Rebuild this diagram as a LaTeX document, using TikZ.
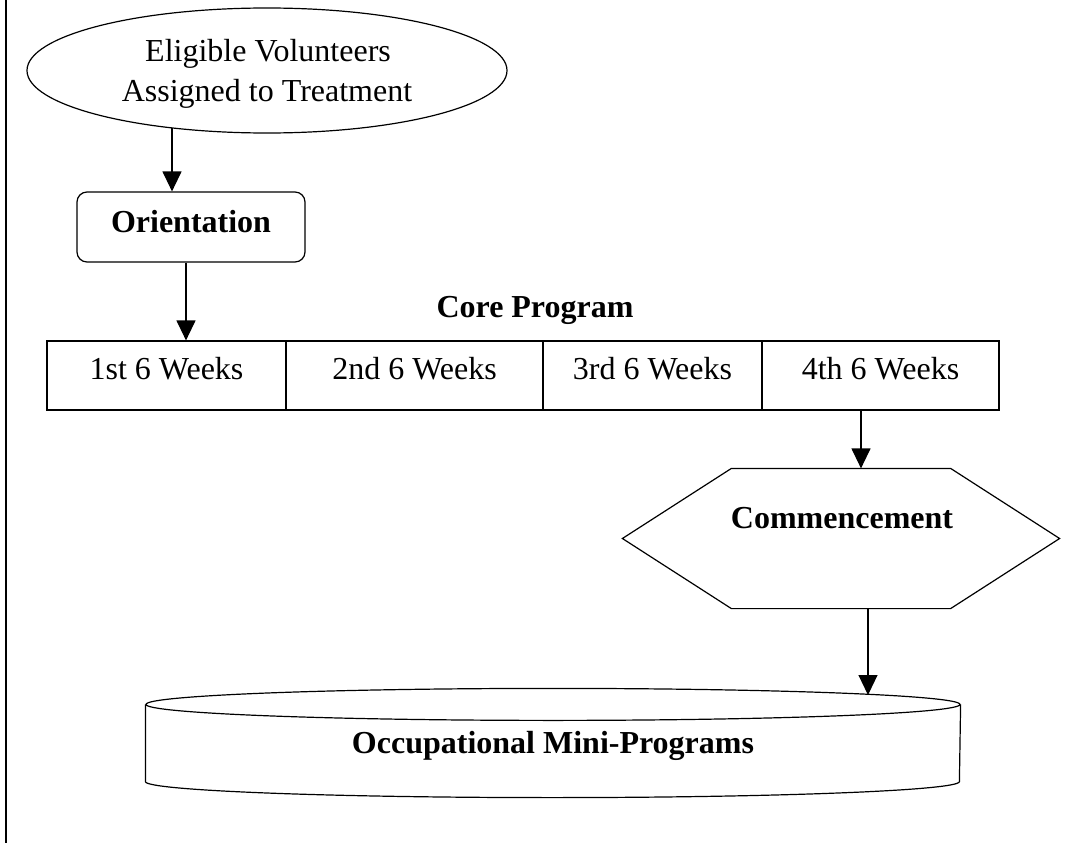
\documentclass[tikz,border=0pt]{standalone}
\usepackage{fontspec}
\setmainfont{Liberation Serif}
\usetikzlibrary{arrows.meta,shapes.geometric}
\begin{document}
\begin{tikzpicture}[x=1pt,y=-1pt, line width=1.2pt,
  font=\fontsize{32}{40}\selectfont,
  arr/.style={-{Triangle[length=20pt,width=19pt]}, line width=1.2pt},
  shp/.style={draw, line width=1.2pt, inner sep=0pt},
  lbl/.style={anchor=base, inner sep=0pt},
  bf/.style={font=\fontsize{32}{40}\selectfont\bfseries},
  wk/.style={draw, line width=1.2pt, minimum height=69pt, inner sep=0pt},
  hid/.style={inner sep=0pt}]
\fill[white] (0,0) rectangle (1080,843);
\useasboundingbox (0,0) rectangle (1080,843);

% left rule
\coordinate (lt) at (6,0);
\coordinate (lb) at (6,843);
\draw[line width=1.4pt] (lt) -- (lb);

% start ellipse
\node[shp, ellipse, minimum width=480pt, minimum height=125pt] (elig) at (267,70.5) {};
\node[lbl] (eligA) at (268,62) {Eligible Volunteers};
\node[lbl] (eligB) at (267,102) {Assigned to Treatment};

% orientation
\node[shp, rounded corners=10pt, minimum width=228pt, minimum height=70pt] (orient) at (191,227) {};
\node[lbl, bf] (orientT) at (191,232) {Orientation};

% core program
\node[lbl, bf] (coreT) at (535,317) {Core Program};
\node[wk, minimum width=239pt] (w1) at (166.5,375.5) {};
\node[wk, minimum width=257pt] (w2) at (414.5,375.5) {};
\node[wk, minimum width=219pt] (w3) at (652.5,375.5) {};
\node[wk, minimum width=237pt] (w4) at (880.5,375.5) {};
\node[lbl] (w1T) at (166.5,379) {1st 6 Weeks};
\node[lbl] (w2T) at (414.5,379) {2nd 6 Weeks};
\node[lbl] (w3T) at (652.5,379) {3rd 6 Weeks};
\node[lbl] (w4T) at (880.5,379) {4th 6 Weeks};

% commencement hexagon
\node[hid, minimum width=436pt, minimum height=139pt] (hex) at (841,538.5) {};
\draw (hex.west) -- ([xshift=109pt]hex.north west) -- ([xshift=-109pt]hex.north east)
  -- (hex.east) -- ([xshift=-109pt]hex.south east) -- ([xshift=109pt]hex.south west) -- cycle;
\node[lbl, bf] (hexT) at (842,528) {Commencement};

% cylinder
\node[hid, minimum width=814pt, minimum height=76pt] (cyl) at (553,743) {};
\draw (cyl.north) ellipse [x radius=407pt, y radius=16pt];
\draw (cyl.north west) -- (cyl.south west)
  arc[start angle=180, end angle=360, x radius=407pt, y radius=16pt] -- (cyl.north east);
\node[lbl, bf] (cylT) at (553,753) {Occupational Mini-Programs};

% connectors
\coordinate (c1) at (172,128);
\draw[arr] (c1) -- (c1 |- orient.north);
\coordinate (c2) at (186,0);
\draw[arr] (c2 |- orient.south) -- (c2 |- w1.north);
\coordinate (c3) at (861,0);
\draw[arr] (c3 |- w4.south) -- (c3 |- hex.north);
\coordinate (c4) at (868,695);
\draw[arr] (c4 |- hex.south) -- (c4);
\end{tikzpicture}
\end{document}
